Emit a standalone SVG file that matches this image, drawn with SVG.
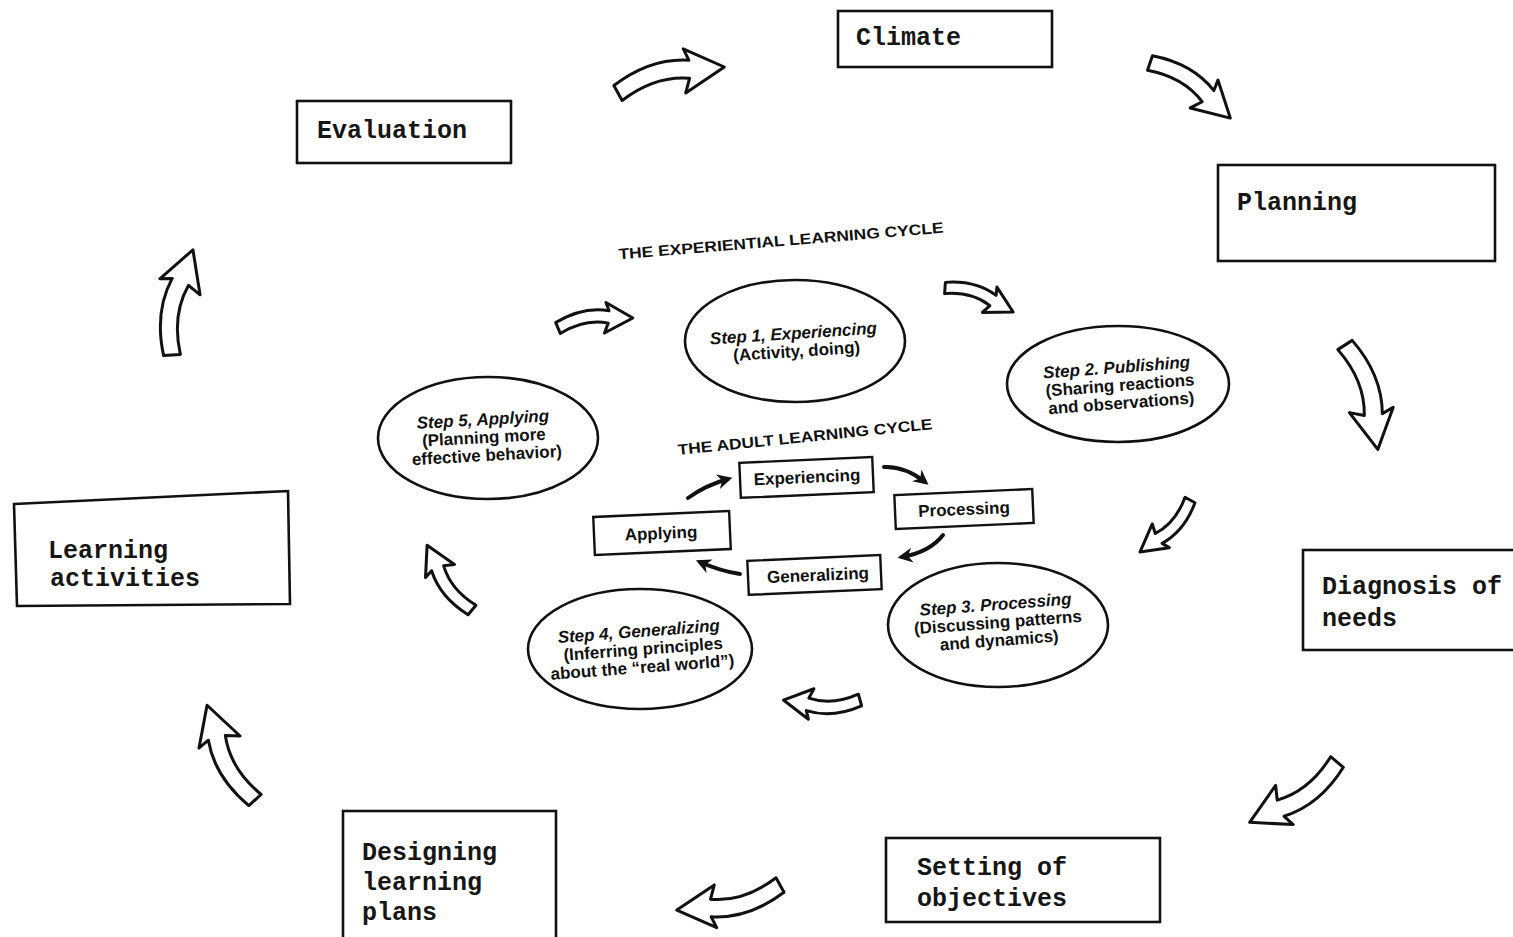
<svg xmlns="http://www.w3.org/2000/svg" xmlns:xlink="http://www.w3.org/1999/xlink" width="1513" height="937" viewBox="0 0 1513 937">
  <style>
    .box { fill: #fff; stroke: #111; stroke-width: 2.6; }
    .lbl { font-family: "Liberation Mono", "DejaVu Sans Mono", monospace; font-size: 25px; font-weight: bold; fill: #161616; }
    .ell { fill: #fff; stroke: #111; stroke-width: 2.6; }
    .st { font-family: "Liberation Sans", Arial, sans-serif; font-size: 17px; font-weight: bold; fill: #111; text-anchor: middle; }
    .st .t { font-style: italic; }
    .ttl { font-family: "Liberation Sans", Arial, sans-serif; font-size: 15px; font-weight: bold; fill: #111; text-anchor: middle; }
    .ib { fill: #fff; stroke: #111; stroke-width: 2.4; }
    .ibt { font-family: "Liberation Sans", Arial, sans-serif; font-size: 17px; font-weight: bold; fill: #111; text-anchor: middle; }
    .ha { fill: #fff; stroke: #111; stroke-width: 3; stroke-linejoin: round; }
    .sa { fill: none; stroke: #111; stroke-width: 4; stroke-linecap: round; }
  </style>
  <defs>
    <!-- hollow block arrow, tail at origin, pointing along +x and bending clockwise -->
    <path id="harrow" class="ha" vector-effect="non-scaling-stroke"
          d="M -3,-8 Q 37,-30 75,-22 L 71,-34 L 109,-10 L 67,10 L 73,-4 Q 39,-12 3,8 Z"/>
    <marker id="head" viewBox="0 0 10 10" refX="7" refY="5" markerUnits="userSpaceOnUse" markerWidth="17" markerHeight="15" orient="auto">
      <path d="M0,0 L10,5 L0,10 L3,5 z" fill="#111"/>
    </marker>
  </defs>
  <rect width="1513" height="937" fill="#fff"/>

  <!-- outer cycle nodes -->
  <g id="climate">
    <rect class="box" x="838" y="11" width="214" height="56"/>
    <text class="lbl" x="856" y="45">Climate</text>
  </g>
  <g id="evaluation">
    <rect class="box" x="297" y="101" width="214" height="62"/>
    <text class="lbl" x="317" y="138">Evaluation</text>
  </g>
  <g id="planning">
    <rect class="box" x="1218" y="165" width="277" height="96"/>
    <text class="lbl" x="1237" y="210">Planning</text>
  </g>
  <g id="learning-activities">
    <polygon class="box" points="14,504 288,491 290,604 17,606"/>
    <text class="lbl" x="48" y="558">Learning</text>
    <text class="lbl" x="50" y="586">activities</text>
  </g>
  <g id="diagnosis">
    <rect class="box" x="1303" y="550" width="240" height="100"/>
    <text class="lbl" x="1322" y="594">Diagnosis of</text>
    <text class="lbl" x="1322" y="626">needs</text>
  </g>
  <g id="setting-objectives">
    <rect class="box" x="886" y="838" width="274" height="84"/>
    <text class="lbl" x="917" y="875">Setting of</text>
    <text class="lbl" x="917" y="906">objectives</text>
  </g>
  <g id="designing-plans">
    <rect class="box" x="343" y="811" width="213" height="140"/>
    <text class="lbl" x="362" y="860">Designing</text>
    <text class="lbl" x="362" y="890">learning</text>
    <text class="lbl" x="362" y="920">plans</text>
  </g>

  <!-- cycle titles -->
  <g id="titles">
    <text class="ttl" x="781" y="246" textLength="326" lengthAdjust="spacingAndGlyphs" transform="rotate(-4.7 781 241)">THE EXPERIENTIAL LEARNING CYCLE</text>
    <text class="ttl" x="805" y="442" textLength="256" lengthAdjust="spacingAndGlyphs" transform="rotate(-5.8 805 437)">THE ADULT LEARNING CYCLE</text>
  </g>

  <!-- experiential learning steps -->
  <g id="step1">
    <ellipse class="ell" cx="795" cy="341" rx="110" ry="61"/>
    <text class="st" transform="rotate(-3.7 795 342)"><tspan class="t" x="794" y="339">Step 1, Experiencing</tspan><tspan x="796" y="357">(Activity, doing)</tspan></text>
  </g>
  <g id="step2">
    <ellipse class="ell" cx="1118" cy="384" rx="111" ry="58"/>
    <text class="st" transform="rotate(-4.3 1118 386)"><tspan class="t" x="1118" y="373">Step 2. Publishing</tspan><tspan x="1120" y="391">(Sharing reactions</tspan><tspan x="1120" y="409">and observations)</tspan></text>
  </g>
  <g id="step3">
    <ellipse class="ell" cx="998" cy="625" rx="110" ry="62"/>
    <text class="st" transform="rotate(-4.3 998 624)"><tspan class="t" x="997" y="610">Step 3. Processing</tspan><tspan x="998" y="628">(Discussing patterns</tspan><tspan x="998" y="646">and dynamics)</tspan></text>
  </g>
  <g id="step4">
    <ellipse class="ell" cx="640" cy="649" rx="112" ry="60"/>
    <text class="st" transform="rotate(-4.3 640 648)"><tspan class="t" x="640" y="637">Step 4, Generalizing</tspan><tspan x="643" y="655">(Inferring principles</tspan><tspan x="641" y="673">about the “real world”)</tspan></text>
  </g>
  <g id="step5">
    <ellipse class="ell" cx="488" cy="438" rx="110" ry="61"/>
    <text class="st" transform="rotate(-3.2 486 440)"><tspan class="t" x="484" y="425">Step 5, Applying</tspan><tspan x="484" y="443">(Planning more</tspan><tspan x="486" y="461">effective behavior)</tspan></text>
  </g>

  <!-- adult learning cycle boxes -->
  <g id="experiencing">
    <rect class="ib" x="740" y="460" width="133" height="35" transform="rotate(-2.5 806 477)"/>
    <text class="ibt" x="807" y="483" transform="rotate(-2.5 806 477)">Experiencing</text>
  </g>
  <g id="processing">
    <rect class="ib" x="895" y="492" width="138" height="34" transform="rotate(-2.5 964 509)"/>
    <text class="ibt" x="964" y="515" transform="rotate(-2.5 964 509)">Processing</text>
  </g>
  <g id="generalizing">
    <rect class="ib" x="748" y="558" width="133" height="34" transform="rotate(-2.5 814 575)"/>
    <text class="ibt" x="818" y="581" transform="rotate(-2.5 814 575)">Generalizing</text>
  </g>
  <g id="applying">
    <rect class="ib" x="594" y="514" width="136" height="38" transform="rotate(-2.5 662 533)"/>
    <text class="ibt" x="661" y="539" transform="rotate(-2.5 662 533)">Applying</text>
  </g>

  <!-- connectors -->
  <g id="connectors">
    <!-- outer cycle -->
    <use xlink:href="#harrow" transform="translate(618,93) rotate(-8.5)"/>
    <use xlink:href="#harrow" transform="translate(1150,63) rotate(39.7) scale(0.89)"/>
    <use xlink:href="#harrow" transform="translate(1345,345) rotate(77.8)"/>
    <use xlink:href="#harrow" transform="translate(1337,762) rotate(150.6) scale(0.97)"/>
    <use xlink:href="#harrow" transform="translate(780,885) rotate(171.6) scale(0.97)"/>
    <use xlink:href="#harrow" transform="translate(255,800) rotate(-111.6) scale(0.97)"/>
    <use xlink:href="#harrow" transform="translate(172,355) rotate(-73.5) scale(0.98)"/>
    <!-- experiential cycle -->
    <use xlink:href="#harrow" transform="translate(558,328) rotate(-2.4) scale(0.69)"/>
    <use xlink:href="#harrow" transform="translate(945,288) rotate(24.6) scale(0.66)"/>
    <use xlink:href="#harrow" transform="translate(1190,500) rotate(139.1) scale(0.66)"/>
    <use xlink:href="#harrow" transform="translate(860,700) rotate(185.2) scale(0.70)"/>
    <use xlink:href="#harrow" transform="translate(472,610) rotate(-119.5) scale(0.72)"/>
    <!-- adult cycle -->
    <path class="sa" d="M 688,498 Q 706,485 728,479" marker-end="url(#head)"/>
    <path class="sa" d="M 884,467 Q 905,466 925,482" marker-end="url(#head)"/>
    <path class="sa" d="M 943,535 Q 930,552 902,557" marker-end="url(#head)"/>
    <path class="sa" d="M 740,574 Q 720,571 700,562" marker-end="url(#head)"/>
  </g>
</svg>
